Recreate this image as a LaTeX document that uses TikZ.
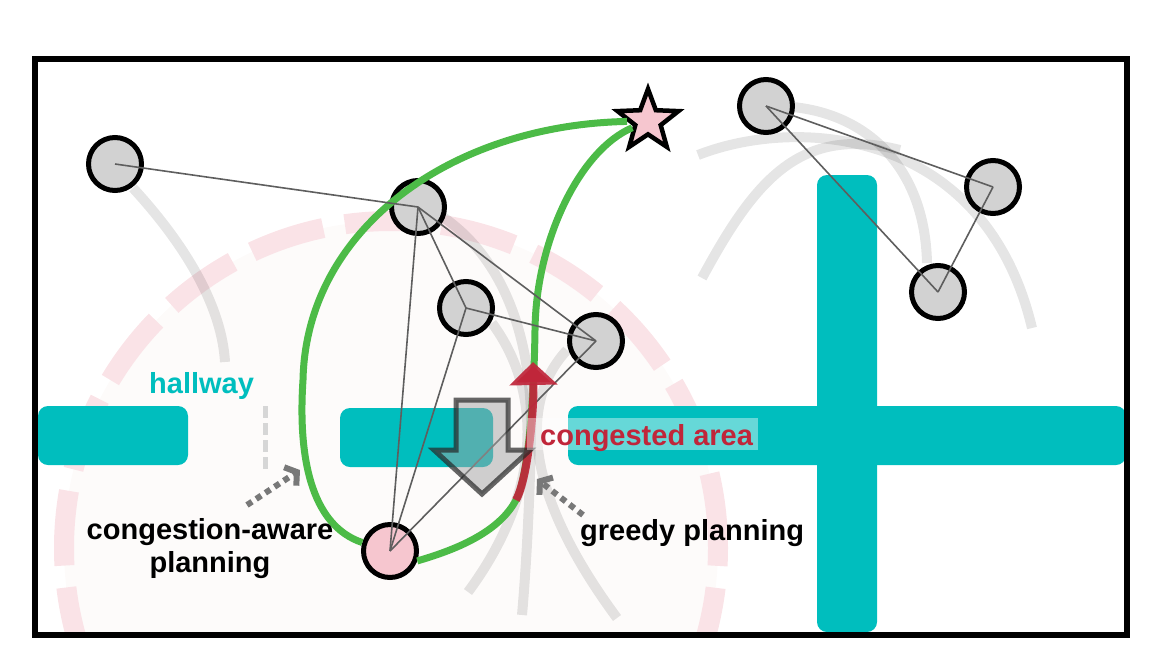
\documentclass[tikz,border=0pt]{standalone}
\usepackage{fontspec}
\setmainfont{Liberation Sans}
\usetikzlibrary{shapes.geometric}
\usetikzlibrary{arrows.meta}

\definecolor{hallcyan}{RGB}{0,190,190}
\definecolor{plangreen}{RGB}{76,187,71}
\definecolor{jamred}{RGB}{192,38,58}
\definecolor{agentgray}{RGB}{210,210,210}
\definecolor{robotpink}{RGB}{246,198,207}
\definecolor{ringpink}{RGB}{250,227,231}
\definecolor{zonefill}{RGB}{253,251,250}

\begin{document}
\begin{tikzpicture}[x=1pt, y=-1pt,
        agent/.style={draw, circle, line width=5pt, fill=agentgray, minimum size=53pt, inner sep=0pt},
        link/.style={line width=1.6pt, draw=black!63},
        traj/.style={line width=10pt, draw=black, draw opacity=0.1},
        hall/.style={fill=hallcyan, rounded corners=10pt},
        plan/.style={line width=7pt, draw=plangreen},
        hint/.style={line width=6pt, draw=black!53, dash pattern=on 6pt off 5pt, -{Straight Barb[length=8pt, width=22pt]}},
        note/.style={font=\fontsize{29}{33}\selectfont\bfseries, inner sep=0pt}]

        \useasboundingbox (0,0) rectangle (1167,665);

        \coordinate (zone) at (391,548);
        \begin{scope}
            \clip (35,58.5) rectangle (1126.5,635);
            \fill[zonefill] (zone) circle (327pt);
            \draw[line width=20pt, draw=ringpink, dash pattern=on 75pt off 22pt] (zone) circle (327pt);
        \end{scope}

        \draw[traj] (133,188) .. controls (190,250) and (222,310) .. (225,362);
        \draw[traj] (443,217) .. controls (505,260) and (532,340) .. (531,430) .. controls (530,500) and (526,570) .. (522,615);
        \draw[traj] (492,323) .. controls (545,395) and (540,495) .. (468,592);
        \draw[traj] (567,350) .. controls (525,395) and (515,480) .. (617,618);
        \draw[traj] (698,155) .. controls (800,115) and (985,130) .. (1032,328);
        \draw[traj] (702,278) .. controls (755,180) and (800,125) .. (900,150);
        \draw[traj] (793,107) .. controls (870,115) and (925,170) .. (927,263);

        \fill[hall] (38,406)  rectangle (188,465);
        \fill[hall] (340,408) rectangle (493,467);
        \fill[hall] (568,406) rectangle (1126,465);
        \fill[hall] (817,175) rectangle (877,632);

        \draw[line width=5pt, draw=black!16, dash pattern=on 12pt off 5pt] (265,406) -- (265,470);

        \node[agent]                  (p1)    at (115,164) {};
        \node[agent]                  (p2)    at (418,207) {};
        \node[agent]                  (p3)    at (466,308) {};
        \node[agent]                  (p4)    at (596,341) {};
        \node[agent]                  (q1)    at (766,106) {};
        \node[agent]                  (q2)    at (993,187) {};
        \node[agent]                  (q3)    at (938,292) {};
        \node[agent, fill=robotpink]  (robot) at (390,551) {};
        \node[draw, star, star points=5, star point ratio=2.4, fill=robotpink, line width=4.5pt,
              minimum size=64pt, inner sep=0pt] (goal) at (648,121) {};

        \coordinate (gs)   at (516,500);
        \coordinate (gmid) at (535,330);
        \coordinate (gtip) at (533,362);

        \draw[plan] (robot.163) .. controls (310,525) and (298,455) .. (303,380) .. controls (306,230) and (450,125) .. (goal);
        \draw[plan] (robot.-20) .. controls (462,548) and (500,530) .. (gs) .. controls (528,478) and (534,400) .. (gmid) .. controls (536,240) and (580,150) .. (goal);

        \draw[link] (p1.center) -- (p2.center);
        \draw[link] (p2.center) -- (p3.center);
        \draw[link] (p2.center) -- (p4.center);
        \draw[link] (p3.center) -- (p4.center);
        \draw[link] (robot.center) -- (p2.center);
        \draw[link] (robot.center) -- (p3.center);
        \draw[link] (robot.center) -- (p4.center);
        \draw[link] (q1.center) -- (q2.center);
        \draw[link] (q1.center) -- (q3.center);
        \draw[link] (q2.center) -- (q3.center);

        \draw[line width=8pt, draw=jamred, draw opacity=0.92, -{Triangle[length=23pt, width=47pt]}] (gs) .. controls (528,478) and (534,410) .. (gtip);

        \draw[draw=black!85, draw opacity=0.7, fill=black!36, fill opacity=0.5, line width=5pt]
            (456,400) -- (508,400) -- (508,450) -- (530,450) -- (482,494) -- (434,450) -- (456,450) -- cycle;

        \fill[white, opacity=0.4] (527,418) rectangle (758,450);
        \node[note, text=hallcyan, anchor=base west] (hallway) at (149,393) {hallway};
        \node[note, text=jamred, anchor=base west]   (jam)     at (540,445) {congested area};
        \node[note, anchor=center, align=center]     (aware)   at (210,549) {congestion-aware\\planning};
        \node[note, anchor=base west]                (greedy)  at (580,540) {greedy planning};

        \coordinate (awaretail)  at (247,505);
        \coordinate (awarehead)  at (300,470);
        \coordinate (greedytail) at (583,515);
        \coordinate (greedyhead) at (537,479);
        \draw[hint] (awaretail) -- (awarehead);
        \draw[hint] (greedytail) -- (greedyhead);

        \draw[line width=6pt] (35,58.5) rectangle (1126.5,635);

    \end{tikzpicture}
\end{document}
